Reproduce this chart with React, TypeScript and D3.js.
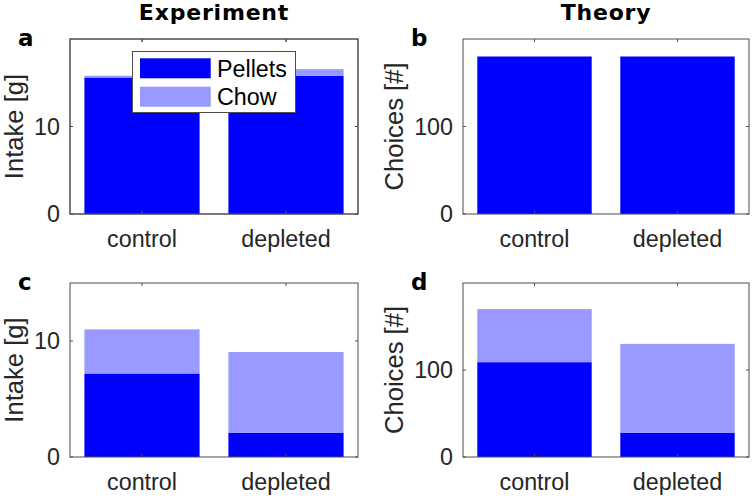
import React from "react";
import * as d3 from "d3";

const categories = ["control", "depleted"];
const seriesNames = ["Pellets", "Chow"];
const seriesColors = ["#0000ff", "#9999ff"];

const expPelletsTop = [15.6, 15.8];
const expChowTop = [0.2, 0.75];
const theoryPelletsTop = [180, 180];
const theoryChowTop = [0, 0];
const expPelletsBottom = [7.2, 2.1];
const expChowBottom = [3.8, 6.95];
const theoryPelletsBottom = [109, 28];
const theoryChowBottom = [61, 102];

const expTicks = [0, 10];
const theoryTicks = [0, 100];

const FONT = "'Liberation Sans', Arial, sans-serif";
const BOLD_FONT = "'DejaVu Sans', sans-serif";
const FS = 23.3;
const TEXT = "#262626";
const AXIS = "#4d4d4d";

type PanelProps = {
  left: number; right: number; top: number; bottom: number;
  ymax: number; ticks: number[]; pellets: number[]; chow: number[];
  ylabel: string; letter: string; title?: string; legend?: boolean;
};

function Panel(p: PanelProps) {
  const x = d3.scaleLinear().domain([0.5, 2.5]).range([p.left, p.right]);
  const y = d3.scaleLinear().domain([0, p.ymax]).range([p.bottom, p.top]);
  const bw = x(1.4) - x(0.6);
  const stacked = categories.map((c, i) => {
    const p0 = p.pellets[i];
    const c0 = p.chow[i];
    return { c, i, segs: [[0, p0], [p0, p0 + c0]] };
  });
  const tickLen = 3;
  const tickLabelW = Math.max(0, ...p.ticks.map((t) => String(t).length)) * 0.556 * FS;
  const ylabelX = p.left - 10 - tickLabelW - 11.5;
  const cy = (p.top + p.bottom) / 2;
  const cx = (p.left + p.right) / 2;
  return (
    <g>
      {stacked.map((s) =>
        s.segs.map((seg, k) =>
          seg[1] > seg[0] ? (
            <rect key={s.c + k} x={x(s.i + 1) - bw / 2} width={bw}
              y={y(seg[1])} height={y(seg[0]) - y(seg[1])} fill={seriesColors[k]} />
          ) : null
        )
      )}
      <rect x={p.left} y={p.top} width={p.right - p.left} height={p.bottom - p.top}
        fill="none" stroke={AXIS} strokeWidth={1} />
      {categories.map((c, i) => (
        <g key={c}>
          <line x1={x(i + 1)} x2={x(i + 1)} y1={p.top} y2={p.top + tickLen} stroke={AXIS} />
          <line x1={x(i + 1)} x2={x(i + 1)} y1={p.bottom} y2={p.bottom - tickLen} stroke={AXIS} />
          {p.ylabel ? (
            <text x={x(i + 1)} y={p.bottom + 32.5} textAnchor="middle" fontSize={FS}
              fontFamily={FONT} fill={TEXT}>{c}</text>
          ) : null}
        </g>
      ))}
      {p.ticks.map((t) => (
        <g key={t}>
          <line x1={p.left} x2={p.left + tickLen} y1={y(t)} y2={y(t)} stroke={AXIS} />
          <line x1={p.right} x2={p.right - tickLen} y1={y(t)} y2={y(t)} stroke={AXIS} />
          <text x={p.left - 10} y={y(t) + 8.3} textAnchor="end" fontSize={FS}
            fontFamily={FONT} fill={TEXT}>{t}</text>
        </g>
      ))}
      {p.ylabel ? (
        <text transform={`translate(${ylabelX},${cy}) rotate(-90)`} textAnchor="middle"
          fontSize={FS * 1.1} fontFamily={FONT} fill={TEXT}>{p.ylabel}</text>
      ) : null}
      <text x={p.left - 52} y={p.top + 7} fontSize={23} fontWeight="bold" fontFamily={BOLD_FONT}
        fill="#000">{p.letter}</text>
      {p.title ? (
        <text x={cx} y={20} textAnchor="middle" fontSize={22} fontWeight="bold"
          letterSpacing={0.8} fontFamily={BOLD_FONT} fill="#000">{p.title}</text>
      ) : null}
      {p.legend ? (
        <g>
          <rect x={132.5} y={51.5} width={163} height={61} fill="#fff" stroke={AXIS} />
          {seriesNames.map((n, k) => (
            <g key={n}>
              <rect x={140} y={58.3 + k * 28.4} width={70.7} height={20} fill={seriesColors[k]} />
              <text x={217} y={76.5 + k * 28.4} fontSize={FS} fontFamily={FONT} fill="#000">{n}</text>
            </g>
          ))}
        </g>
      ) : null}
    </g>
  );
}

export default function App() {
  return (
    <svg width={754} height={498} style={{ position: "absolute", left: 0, top: 0, background: "#fff" }}>
      <rect width={754} height={498} fill="#fff" />
      <Panel left={70} right={358} top={39} bottom={214} ymax={20} ticks={expTicks}
        pellets={expPelletsTop} chow={expChowTop} ylabel="Intake [g]" letter="a"
        title="Experiment" />
      <Panel left={463} right={749} top={39} bottom={214} ymax={200} ticks={theoryTicks}
        pellets={theoryPelletsTop} chow={theoryChowTop} ylabel="Choices [#]" letter="b"
        title="Theory" />
      <Panel left={70} right={358} top={283} bottom={457} ymax={15} ticks={expTicks}
        pellets={expPelletsBottom} chow={expChowBottom} ylabel="Intake [g]" letter="c" />
      <Panel left={463} right={749} top={283} bottom={457} ymax={200} ticks={theoryTicks}
        pellets={theoryPelletsBottom} chow={theoryChowBottom} ylabel="Choices [#]" letter="d" />
      <Panel left={70} right={358} top={39} bottom={214} ymax={20} ticks={[]}
        pellets={[0, 0]} chow={[0, 0]} ylabel="" letter="" legend />
    </svg>
  );
}
